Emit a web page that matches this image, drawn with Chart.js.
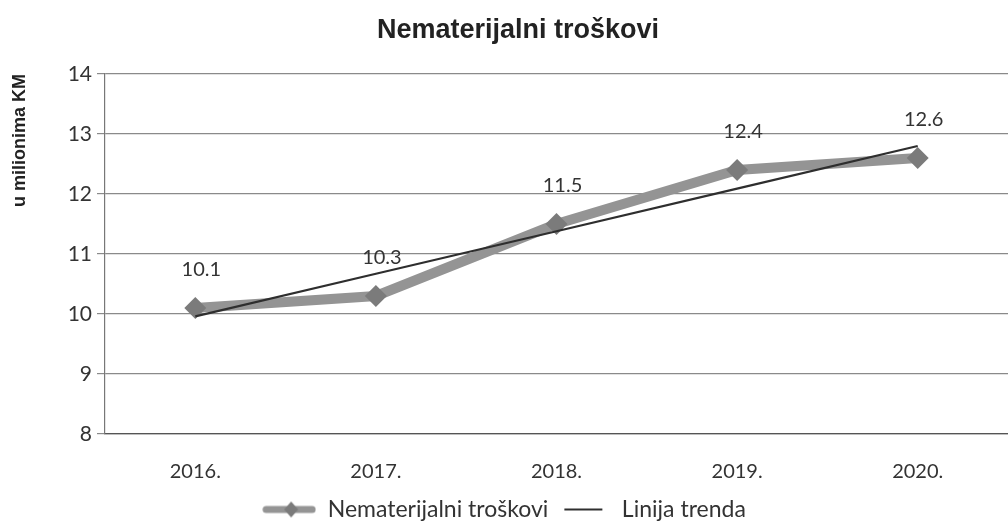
<!DOCTYPE html>
<html>
<head>
<meta charset="utf-8">
<script src="https://cdn.jsdelivr.net/npm/chart.js@4/dist/chart.umd.min.js"></script>
<style>
  html, body { margin: 0; padding: 0; background: #fff; overflow: hidden; }
  #wrap { width: 1008px; height: 531px; }
</style>
</head>
<body>
<div id="wrap"><canvas id="chart"></canvas></div>
<script>
// Data
const chartTitle = 'Nematerijalni troškovi';
const years = ['2016.', '2017.', '2018.', '2019.', '2020.'];
const troskovi = [10.1, 10.3, 11.5, 12.4, 12.6];
const trend = [9.96, 10.67, 11.38, 12.09, 12.8];
const yTicks = [8, 9, 10, 11, 12, 13, 14];

const LINE_GRAY = '#949494';
const MARKER_GRAY = '#7b7b7b';
const TREND_DARK = '#2e2e2e';
const TEXT = '#333333';
const labelFont = 'Lato, "Open Sans", sans-serif';
const boldFont = '"Liberation Sans", Arial, sans-serif';

// Small canvases used as legend symbols
function legendSymbol(thick) {
    const c = document.createElement('canvas');
    if (thick) {
        c.width = 54; c.height = 18;
        const g = c.getContext('2d');
        g.strokeStyle = LINE_GRAY; g.lineWidth = 7; g.lineCap = 'round';
        g.beginPath(); g.moveTo(4, 9); g.lineTo(50, 9); g.stroke();
        g.fillStyle = MARKER_GRAY;
        g.beginPath(); g.moveTo(29, 1); g.lineTo(36, 9); g.lineTo(29, 17); g.lineTo(22, 9); g.closePath(); g.fill();
    } else {
        c.width = 40; c.height = 4;
        const g = c.getContext('2d');
        g.strokeStyle = TREND_DARK; g.lineWidth = 2;
        g.beginPath(); g.moveTo(1, 2); g.lineTo(39, 2); g.stroke();
    }
    return c;
}

// Chart title and value labels drawn on the canvas
const extraText = {
    id: 'extraText',
    afterDraw(chart) {
        const ctx = chart.ctx;
        ctx.save();
        ctx.font = 'bold 27px ' + boldFont;
        ctx.fillStyle = '#222';
        ctx.textAlign = 'center';
        ctx.textBaseline = 'middle';
        ctx.fillText(chartTitle, 518, 31);

        ctx.font = '20px ' + labelFont;
        ctx.fillStyle = TEXT;
        const meta = chart.getDatasetMeta(0);
        meta.data.forEach((pt, i) => {
            ctx.fillText(troskovi[i].toFixed(1), pt.x + 6, pt.y - 38);
        });
        ctx.restore();
    }
};

const ctx = document.getElementById('chart').getContext('2d');
new Chart(ctx, {
    type: 'line',
    data: {
        labels: years,
        datasets: [{
            label: 'Nematerijalni troškovi',
            data: troskovi,
            borderColor: LINE_GRAY,
            backgroundColor: MARKER_GRAY,
            borderWidth: 10,
            pointStyle: 'rectRot',
            pointRadius: 11,
            pointBorderWidth: 0,
            tension: 0,
            order: 2
        }, {
            label: 'Linija trenda',
            data: trend,
            borderColor: TREND_DARK,
            backgroundColor: TREND_DARK,
            borderWidth: 2.2,
            pointRadius: 0,
            tension: 0,
            order: 1
        }]
    },
    options: {
        responsive: true,
        maintainAspectRatio: false,
        animation: false,
        layout: { autoPadding: false, padding: { left: 0, right: 0, top: 74, bottom: 0 } },
        scales: {
            x: {
                offset: true,
                grid: { display: false, drawTicks: false },
                border: { color: '#555', width: 1.2 },
                ticks: { color: TEXT, font: { family: labelFont, size: 20 }, padding: 26 },
                afterFit: (axis) => { axis.height = 56; axis.paddingRight = 0; axis.paddingLeft = 0; }
            },
            y: {
                min: 8, max: 14,
                afterBuildTicks: (axis) => { axis.ticks = yTicks.map(v => ({ value: v })); },
                grid: { color: '#8a8a8a', lineWidth: 1.2, tickLength: 8 },
                border: { color: '#777', width: 1.2 },
                ticks: { color: TEXT, font: { family: labelFont, size: 21 }, padding: 5 },
                title: {
                    display: true,
                    text: 'u milionima KM',
                    align: 'end',
                    color: '#222',
                    font: { family: boldFont, size: 18, weight: 'bold' },
                    padding: { top: 9, bottom: 0 }
                },
                afterFit: (axis) => { axis.width = 105; }
            }
        },
        plugins: {
            title: { display: false },
            legend: {
                position: 'bottom',
                labels: {
                    usePointStyle: true,
                    pointStyleWidth: 54,
                    color: TEXT,
                    font: { family: labelFont, size: 23 },
                    padding: 8,
                    generateLabels: (chart) => chart.data.datasets.map((ds, i) => ({
                        text: ds.label,
                        fontColor: TEXT,
                        pointStyle: legendSymbol(i === 0),
                        datasetIndex: i,
                        lineWidth: 0,
                        strokeStyle: 'transparent',
                        fillStyle: 'transparent'
                    }))
                }
            },
            tooltip: { enabled: false }
        }
    },
    plugins: [extraText]
});
</script>
</body>
</html>
